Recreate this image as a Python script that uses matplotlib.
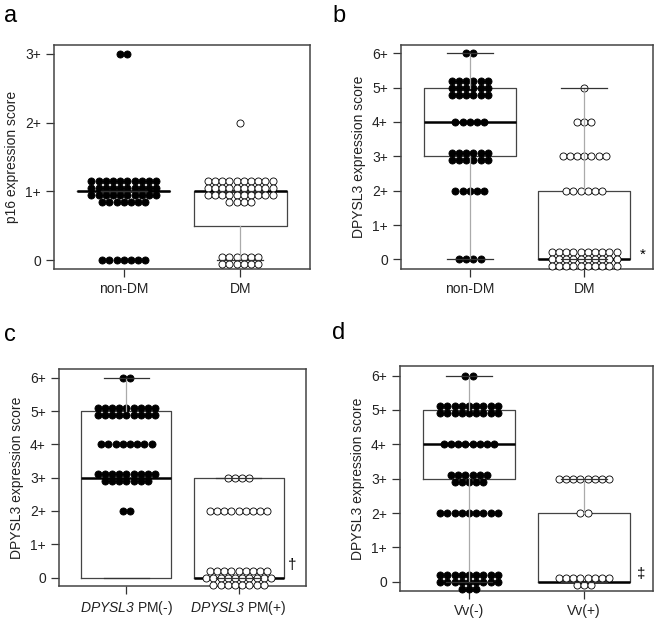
import matplotlib
matplotlib.use("Agg")
import matplotlib.pyplot as plt
import numpy as np

plt.rcParams['font.family'] = ['Liberation Sans', 'DejaVu Sans']
plt.rcParams['mathtext.fontset'] = 'custom'
plt.rcParams['mathtext.rm'] = 'Liberation Sans:italic'
plt.rcParams['mathtext.it'] = 'Liberation Sans:italic'

# counts of cases per score, split into the rows of the dot swarm (top row first)
a_nondm = {3: [2], 1: [10, 10, 10, 7], 0: [7]}
a_dm = {2: [1], 1: [10, 10, 10, 4], 0: [6, 6]}
b_nondm = {6: [2], 5: [6, 6, 6], 4: [5], 3: [6, 6], 2: [5], 0: [4]}
b_dm = {5: [1], 4: [3], 3: [7], 2: [6], 0: [10, 10, 10]}
c_neg = {6: [2], 5: [9, 9], 4: [8], 3: [9, 7], 2: [2]}
c_pos = {3: [4], 2: [9], 0: [9, 10, 8]}
d_neg = {6: [2], 5: [9, 9], 4: [8], 3: [6, 5], 2: [9], 0: [9, 9, 3]}
d_pos = {3: [8], 2: [2], 0: [8, 3]}

# box stats: (q1, median, q3, whisker low, whisker high)
a_box = [(1, 1, 1, 1, 1), (0.5, 1, 1, 0, 1)]
b_box = [(3, 4, 5, 0, 6), (0, 0, 2, 0, 5)]
c_box = [(0, 3, 5, 0, 6), (0, 0, 3, 0, 3)]
d_box = [(3, 4, 5, 0, 6), (0, 0, 2, 0, 3)]

a_labels = ['non-DM', 'DM']
b_labels = ['non-DM', 'DM']
c_labels = [r'$\mathit{DPYSL3}$ PM(-)', r'$\mathit{DPYSL3}$ PM(+)']
d_labels = ['Vv(-)', 'Vv(+)']

W, H = 656, 619
fig = plt.figure(figsize=(W / 100, H / 100), dpi=100)


def panel(rect, ylim, ymax, groups, boxes, labels, ylabel, mark, mark_xy):
    ax = fig.add_axes(rect)
    ax.set_xlim(0.4, 2.6)
    ax.set_ylim(*ylim)
    w_px = rect[2] * W
    h_px = rect[3] * H
    dx = 7.2 * 2.2 / w_px
    dy = 7.0 * (ylim[1] - ylim[0]) / h_px

    stats = []
    for q1, med, q3, lo, hi in boxes:
        stats.append(dict(q1=q1, med=med, q3=q3, whislo=lo, whishi=hi, fliers=[]))
    bp = ax.bxp(stats, positions=[1, 2], widths=0.8, capwidths=0.4, showfliers=False,
                boxprops=dict(color='#444444', lw=0.9),
                medianprops=dict(color='black', lw=1.8),
                whiskerprops=dict(color='#aaaaaa', lw=0.9),
                capprops=dict(color='#333333', lw=0.9))
    for ln in bp['whiskers'] + bp['caps']:
        ln.set_zorder(4)

    for pos, (rows_by_score, face) in zip([1, 2], groups):
        for score, rows in rows_by_score.items():
            nr = len(rows)
            for r, n in enumerate(rows):
                y = score + ((nr - 1) / 2 - r) * dy
                xs = pos + (np.arange(n) - (n - 1) / 2) * dx
                ax.scatter(xs, np.full(n, y), s=26, facecolor=face, edgecolor='black',
                           linewidth=0.6, zorder=3, clip_on=False)

    ax.set_yticks(range(ymax + 1))
    ax.set_yticklabels(['0'] + [f'{i}+' for i in range(1, ymax + 1)])
    ax.set_xticks([1, 2])
    ax.set_xticklabels(labels)
    ax.tick_params(labelsize=10, length=6, color='#333333', labelcolor='#222222', width=0.9)
    ax.set_ylabel(ylabel, fontsize=10, color='#222222')
    for s in ax.spines.values():
        s.set_color('#444444')
        s.set_linewidth(1.1)
    if mark:
        ax.text(mark_xy[0], mark_xy[1], mark, fontsize=11, ha='center', va='center')
    return ax


panel([54 / W, 1 - 269 / H, 256 / W, 224 / H], (-0.13, 3.13), 3,
      [(a_nondm, 'black'), (a_dm, 'white')], a_box, a_labels,
      'p16 expression score', None, None)
panel([401 / W, 1 - 269 / H, 252 / W, 224 / H], (-0.28, 6.24), 6,
      [(b_nondm, 'black'), (b_dm, 'white')], b_box, b_labels,
      'DPYSL3 expression score', '*', (2.51, 0.12))
panel([59 / W, 1 - 586 / H, 247 / W, 217 / H], (-0.25, 6.26), 6,
      [(c_neg, 'black'), (c_pos, 'white')], c_box, c_labels,
      'DPYSL3 expression score', '\u2020', (2.48, 0.38))
panel([400 / W, 1 - 591 / H, 253 / W, 225 / H], (-0.27, 6.28), 6,
      [(d_neg, 'black'), (d_pos, 'white')], d_box, d_labels,
      'DPYSL3 expression score', '\u2021', (2.50, 0.22))

for lab, x, y in [('a', 4, 16), ('b', 332, 16), ('c', 4, 335), ('d', 332, 333)]:
    fig.text(x / W, 1 - y / H, lab, fontsize=17, va='center', ha='left')

fig.savefig('out.png', dpi=100)
